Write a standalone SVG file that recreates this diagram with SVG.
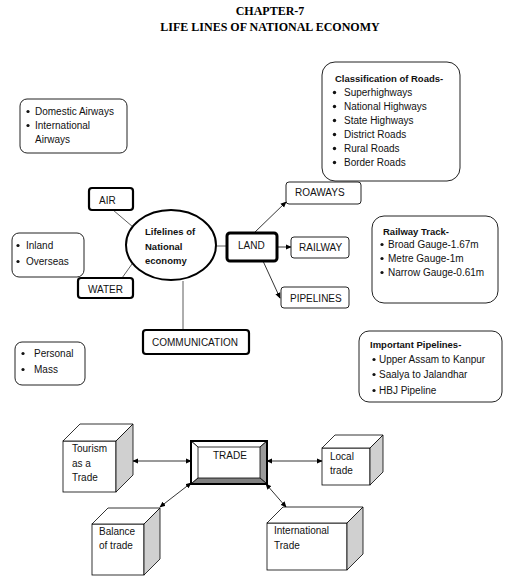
<svg xmlns="http://www.w3.org/2000/svg" width="521" height="583" viewBox="0 0 521 583">
<defs>
<marker id="ah" viewBox="0 0 8 8" refX="7" refY="4" markerWidth="6" markerHeight="6" orient="auto-start-reverse" markerUnits="userSpaceOnUse">
<path d="M0,0.5 L8,4 L0,7.5 z" fill="#000"/>
</marker>
</defs>
<style>
text{font-family:"Liberation Sans",Arial,sans-serif;font-size:10px;fill:#111}
.b{font-weight:bold;font-size:9.5px}
.t{font-family:"Liberation Serif","Times New Roman",serif;font-weight:bold;font-size:12px;fill:#000}
.thin{fill:#fff;stroke:#222;stroke-width:1}
.thick{fill:#fff;stroke:#000;stroke-width:2.2}
.ln{stroke:#333;stroke-width:0.8;fill:none}
.ar{stroke:#000;stroke-width:0.8;fill:none}
.face{fill:#fff;stroke:#000;stroke-width:0.8}
.side{fill:#d0d0d0;stroke:#000;stroke-width:0.8}
</style>
<rect width="521" height="583" fill="#fff"/>
<g id="title">
<text class="t" x="270" y="15" text-anchor="middle">CHAPTER-7</text>
<text class="t" x="270" y="31" text-anchor="middle">LIFE LINES OF NATIONAL ECONOMY</text>
</g>
<g id="connectors">
<line class="ln" x1="113" y1="210" x2="133" y2="227"/>
<line class="ln" x1="122" y1="278" x2="132" y2="264"/>
<line class="ln" x1="183" y1="281" x2="183" y2="330"/>
<line class="ln" x1="216" y1="246" x2="227" y2="246"/>
<line class="ar" x1="254" y1="233" x2="286" y2="202" marker-end="url(#ah)"/>
<line class="ar" x1="277" y1="247" x2="291" y2="247" marker-end="url(#ah)"/>
<line class="ar" x1="263" y1="261" x2="280" y2="298" marker-end="url(#ah)"/>
<line class="ar" x1="133" y1="461" x2="191" y2="461" marker-start="url(#ah)" marker-end="url(#ah)"/>
<line class="ar" x1="267" y1="461" x2="322" y2="461" marker-start="url(#ah)" marker-end="url(#ah)"/>
<line class="ar" x1="160" y1="507" x2="191" y2="483" marker-start="url(#ah)" marker-end="url(#ah)"/>
<line class="ar" x1="266" y1="484" x2="286" y2="507" marker-start="url(#ah)" marker-end="url(#ah)"/>
</g>
<g id="airways-list">
<rect class="thin" x="20" y="99" width="107" height="54" rx="7"/>
<circle cx="28" cy="111.5" r="1.6" fill="#111"/>
<circle cx="28" cy="125.5" r="1.6" fill="#111"/>
<text x="35" y="115">Domestic Airways</text>
<text x="35" y="129">International</text>
<text x="35" y="143">Airways</text>
</g>
<g id="air">
<rect class="thick" x="89" y="188" width="44" height="22" rx="3"/>
<text x="99" y="204">AIR</text>
</g>
<g id="center">
<ellipse cx="171" cy="245" rx="45" ry="35" fill="#fff" stroke="#000" stroke-width="2"/>
<text class="b" x="145" y="235">Lifelines of</text>
<text class="b" x="145" y="250">National</text>
<text class="b" x="145" y="264">economy</text>
</g>
<g id="water-list">
<rect class="thin" x="12" y="233" width="72" height="44" rx="7"/>
<circle cx="18" cy="245.5" r="1.6" fill="#111"/>
<circle cx="18" cy="261.5" r="1.6" fill="#111"/>
<text x="26" y="249">Inland</text>
<text x="26" y="265">Overseas</text>
</g>
<g id="water">
<rect class="thick" x="78" y="278" width="55" height="20" rx="3"/>
<text x="88" y="293">WATER</text>
</g>
<g id="communication">
<rect class="thick" x="143" y="330" width="106" height="24" rx="3"/>
<text x="152" y="346">COMMUNICATION</text>
</g>
<g id="communication-list">
<rect class="thin" x="15" y="342" width="70" height="43" rx="7"/>
<circle cx="23" cy="353.5" r="1.6" fill="#111"/>
<circle cx="23" cy="369.5" r="1.6" fill="#111"/>
<text x="34" y="357">Personal</text>
<text x="34" y="373">Mass</text>
</g>
<g id="land">
<rect x="227" y="233" width="50" height="28" rx="3" fill="#fff" stroke="#000" stroke-width="3"/>
<text x="238" y="249">LAND</text>
</g>
<g id="roadways">
<rect class="thin" x="286" y="182" width="75" height="22" rx="3" stroke-width="1.3"/>
<text x="295" y="196">ROAWAYS</text>
</g>
<g id="railway">
<rect class="thin" x="291" y="237" width="58" height="21" rx="3" stroke-width="1.3"/>
<text x="299" y="251">RAILWAY</text>
</g>
<g id="pipelines">
<rect class="thin" x="281" y="287" width="68" height="21" rx="3" stroke-width="1.3"/>
<text x="290" y="302">PIPELINES</text>
</g>
<g id="roads-list">
<rect class="thin" x="322" y="62" width="138" height="119" rx="13"/>
<text class="b" x="335" y="82">Classification of Roads-</text>
<g fill="#111">
<circle cx="334.5" cy="92.5" r="1.7"/>
<circle cx="334.5" cy="106.5" r="1.7"/>
<circle cx="334.5" cy="120.5" r="1.7"/>
<circle cx="334.5" cy="134.5" r="1.7"/>
<circle cx="334.5" cy="148.5" r="1.7"/>
<circle cx="334.5" cy="162.5" r="1.7"/>
</g>
<text x="344" y="96">Superhighways</text>
<text x="344" y="110">National Highways</text>
<text x="344" y="124">State Highways</text>
<text x="344" y="138">District Roads</text>
<text x="344" y="152">Rural Roads</text>
<text x="344" y="166">Border Roads</text>
</g>
<g id="railway-list">
<rect class="thin" x="372" y="216" width="126" height="87" rx="12"/>
<text class="b" x="383" y="235">Railway Track-</text>
<g fill="#111">
<circle cx="382" cy="244.5" r="1.6"/>
<circle cx="382" cy="258.5" r="1.6"/>
<circle cx="382" cy="272.5" r="1.6"/>
</g>
<text x="388" y="248">Broad Gauge-1.67m</text>
<text x="388" y="262">Metre Gauge-1m</text>
<text x="388" y="276">Narrow Gauge-0.61m</text>
</g>
<g id="pipelines-list">
<rect class="thin" x="359" y="331" width="143" height="71" rx="10"/>
<text class="b" x="370" y="348">Important Pipelines-</text>
<g fill="#111">
<circle cx="374" cy="359.5" r="1.6"/>
<circle cx="374" cy="374.5" r="1.6"/>
<circle cx="374" cy="390.5" r="1.6"/>
</g>
<text x="379" y="363">Upper Assam to Kanpur</text>
<text x="379" y="378">Saalya to Jalandhar</text>
<text x="379" y="394">HBJ Pipeline</text>
</g>
<g id="trade">
<rect x="191" y="441" width="76" height="43" fill="#fff" stroke="#000" stroke-width="2"/>
<polygon points="191,441 267,441 260,447 198,447" fill="#fff" stroke="#000" stroke-width="0.8"/>
<polygon points="191,441 198,447 198,478 191,484" fill="#fff" stroke="#000" stroke-width="0.8"/>
<polygon points="267,441 260,447 260,478 267,484" fill="#9a9a9a" stroke="#000" stroke-width="0.8"/>
<polygon points="191,484 198,478 260,478 267,484" fill="#808080" stroke="#000" stroke-width="0.8"/>
<rect x="191" y="441" width="76" height="43" fill="none" stroke="#000" stroke-width="2"/>
<text x="213" y="459" fill="#223">TRADE</text>
</g>
<g id="tourism">
<rect class="face" x="63" y="441" width="53" height="51"/>
<polygon class="face" points="63,441 80,424 133,424 116,441"/>
<polygon class="side" points="116,441 133,424 133,475 116,492"/>
<text x="72" y="452">Tourism</text>
<text x="72" y="467">as a</text>
<text x="72" y="481">Trade</text>
</g>
<g id="local">
<rect class="face" x="322" y="448" width="48" height="37"/>
<polygon class="face" points="322,448 335,435 383,435 370,448"/>
<polygon class="side" points="370,448 383,435 383,472 370,485"/>
<text x="330" y="460">Local</text>
<text x="330" y="474">trade</text>
</g>
<g id="international">
<rect class="face" x="267" y="523" width="80" height="47"/>
<polygon class="face" points="267,523 283,507 363,507 347,523"/>
<polygon class="side" points="347,523 363,507 363,554 347,570"/>
<text x="274" y="534">International</text>
<text x="274" y="549">Trade</text>
</g>
<g id="balance">
<rect class="face" x="92" y="524" width="52" height="51"/>
<polygon class="face" points="92,524 108,508 160,508 144,524"/>
<polygon class="side" points="144,524 160,508 160,559 144,575"/>
<text x="99" y="535">Balance</text>
<text x="99" y="549">of trade</text>
</g>
</svg>
